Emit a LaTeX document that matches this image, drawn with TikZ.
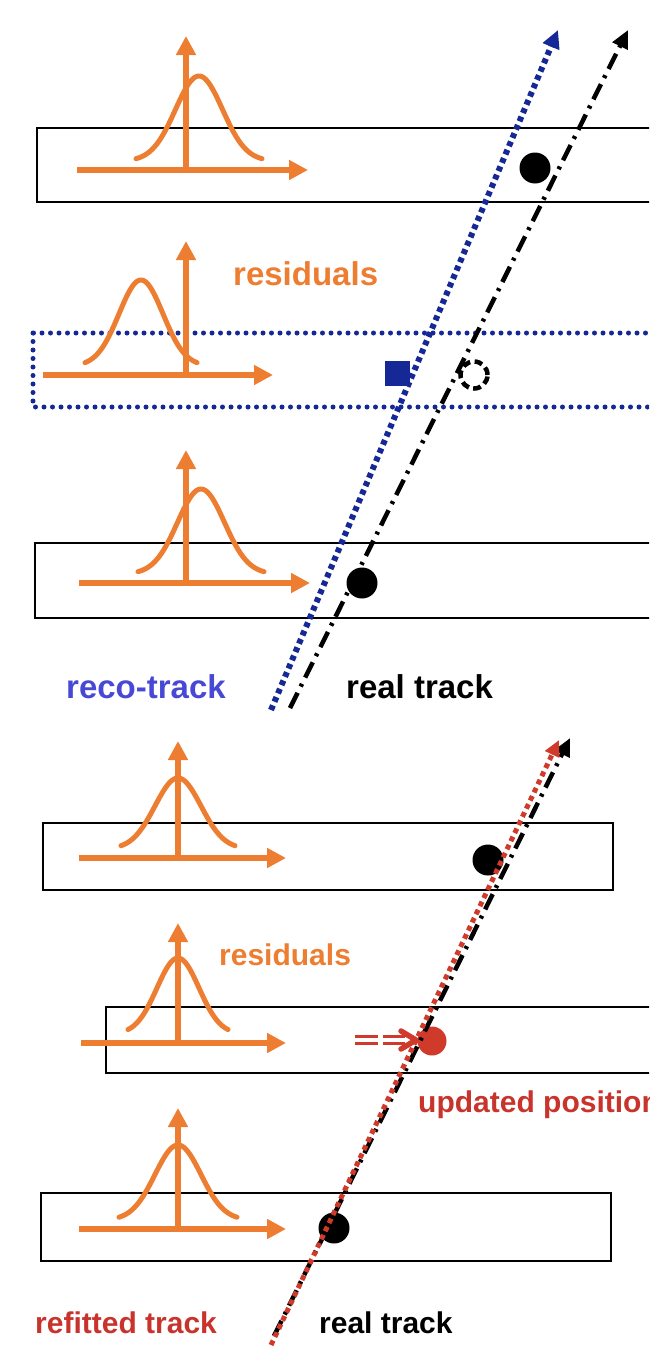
\documentclass[tikz,border=0pt]{standalone}
\usepackage{fontspec}
\setmainfont{Liberation Sans}
\usetikzlibrary{arrows.meta}
\definecolor{orng}{RGB}{237,125,49}
\definecolor{navy}{RGB}{22,40,150}
\definecolor{recob}{RGB}{72,72,214}
\definecolor{redc}{RGB}{208,58,43}
\definecolor{redt}{RGB}{200,52,44}
\newcommand\mygauss[5]{\draw[gauss] plot[domain=-#5:#5, samples=70] ({#1+\x},{#2-9-(#3-9)*exp(-(\x*\x)/(2*#4*#4))});}
\begin{document}
\begin{tikzpicture}[x=1pt,y=-1pt,
  axis/.style={orng, line width=5.5pt, -{Triangle[length=19pt,width=19pt]}},
  gauss/.style={orng, line width=5pt, line cap=round},
  det/.style={draw=black, line width=2.5pt},
  dot/.style={circle, fill=black, minimum size=31pt, inner sep=0pt},
  bluetrack/.style={navy, line width=6pt, dash pattern=on 5pt off 4pt, -{Triangle[length=18pt,width=17pt]}},
  realtrack/.style={black, line width=4.5pt, dash pattern=on 17pt off 7pt on 3pt off 7pt, -{Triangle[length=18pt,width=16pt]}},
  redtrack/.style={redc, line width=5pt, dash pattern=on 5pt off 4pt, -{Triangle[length=16pt,width=15pt]}},
  lbl/.style={font=\bfseries\fontsize{33}{38}\selectfont, inner sep=0pt, anchor=base west},
  lbls/.style={font=\bfseries\fontsize{30}{35}\selectfont, inner sep=0pt, anchor=base west}]
\useasboundingbox (0,0) rectangle (649,1349);
\clip (0,0) rectangle (649,1349);
% ---------------- top panel ----------------
\draw[det] (37,128) rectangle (720,202);
\draw[navy, line width=5pt, line cap=round, dash pattern=on 0pt off 8.5pt] (33,333) rectangle (720,407);
\draw[det] (35,543) rectangle (720,618);
% residual plots
\draw[axis] (77,170) -- (308,170);
\draw[axis] (186,170) -- (186,36);
\mygauss{199}{170}{94}{23.5}{63}
\draw[axis] (43,375) -- (273,375);
\draw[axis] (186,375) -- (186,241);
\mygauss{141}{375}{95}{22}{56}
\draw[axis] (79,583) -- (310,583);
\draw[axis] (186,583) -- (186,450);
\mygauss{201}{583}{94}{23.5}{63}
\node[lbl, text=orng] (res1) at (233,285) {residuals};
% hits
\node[dot] (h1) at (535,168) {};
\node[dot] (h3) at (362,583) {};
\node[fill=navy, minimum size=25pt, inner sep=0pt] (sq) at (397,373) {};
\node[circle, draw=black, line width=4.5pt, dash pattern=on 8pt off 4.5pt, minimum size=27pt, inner sep=0pt] (oc) at (474,375) {};
% tracks
\coordinate (rt0) at (290,708);
\coordinate (rt1) at (628,30);
\coordinate (bt0) at (271,710);
\coordinate (bt1) at (558,30);
\draw[realtrack] (rt0) -- (rt1);
\draw[bluetrack] (bt0) -- (bt1);
\node[lbl, text=recob] (reco) at (66,698) {reco-track};
\node[lbl, text=black] (real1) at (346,698) {real track};
% ---------------- bottom panel ----------------
\draw[det] (43,823) rectangle (613,890);
\draw[det] (106,1007) rectangle (720,1073);
\draw[det] (41,1193) rectangle (611,1261);
\draw[axis] (79,858) -- (286,858);
\draw[axis] (178,858) -- (178,741);
\mygauss{178}{858}{80}{23}{57}
\draw[axis] (81,1043) -- (286,1043);
\draw[axis] (178,1043) -- (178,923);
\mygauss{178}{1043}{85}{21}{50}
\draw[axis] (79,1229) -- (286,1229);
\draw[axis] (178,1229) -- (178,1108);
\mygauss{178}{1229}{84}{23}{59}
\node[lbls, text=orng] (res2) at (219,965) {residuals};
% hits
\node[dot] (h4) at (488,860) {};
\node[dot] (h6) at (334,1228) {};
\node[circle, fill=redc, minimum size=29pt, inner sep=0pt] (up) at (432,1041) {};
% update arrow
\coordinate (ua) at (355,1040);
\coordinate (ub) at (416,1040);
\draw[redc, line width=3pt] ([yshift=-3.5pt]ua) -- ++(23,0) ++(5,0) -- ++(22,0);
\draw[redc, line width=3pt] ([yshift=3.5pt]ua) -- ++(23,0) ++(5,0) -- ++(22,0);
\draw[redc, line width=5.5pt, line cap=round, line join=round] ([xshift=-15pt,yshift=-9pt]ub) -- (ub) -- ([xshift=-15pt,yshift=9pt]ub);
% tracks
\coordinate (rb0) at (274,1336);
\coordinate (rb1) at (570,738);
\coordinate (ft0) at (271,1345);
\coordinate (ft1) at (559,740);
\draw[realtrack] (rb0) -- (rb1);
\draw[redtrack] (ft0) -- (ft1);
\node[lbls, text=redt] (upd) at (418,1112) {updated position};
\node[lbls, text=redt] (refit) at (35,1333) {refitted track};
\node[lbls, text=black] (real2) at (319,1333) {real track};
\end{tikzpicture}
\end{document}
